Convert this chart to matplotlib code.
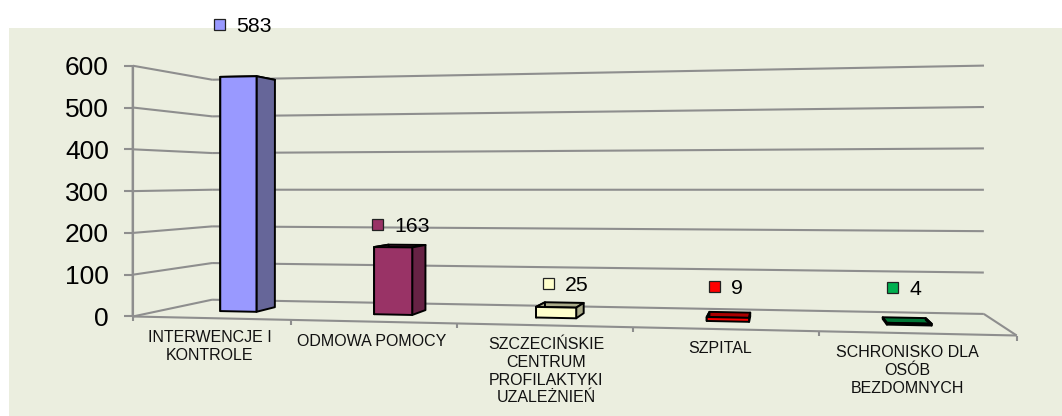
import numpy as np
import matplotlib
matplotlib.use("Agg")
import matplotlib.pyplot as plt
from matplotlib.patches import Polygon, Rectangle

plt.rcParams['font.family'] = ['Liberation Sans', 'DejaVu Sans']

categories = ["INTERWENCJE I\nKONTROLE", "ODMOWA POMOCY",
              "SZCZECIŃSKIE\nCENTRUM\nPROFILAKTYKI\nUZALEŻNIEŃ", "SZPITAL",
              "SCHRONISKO DLA\nOSÓB\nBEZDOMNYCH"]
values = [583, 163, 25, 9, 4]
y_ticks = [0, 100, 200, 300, 400, 500, 600]
front_colors = ["#9999FF", "#993366", "#FFFFCC", "#FF0000", "#00B050"]
side_colors = ["#666699", "#662244", "#AAAA88", "#AA0000", "#007535"]

BG = "#EBEEDF"
GRID = "#8E8E8E"

# camera of the fake 3d chart, fitted to where the box corners land in pixels
# (u along categories 0-1, d depth 0-1, v value)
box_anchors = [
    (0, 0, 0, 133, 316), (0, 0, 600, 133, 65),
    (1, 0, 0, 1017, 334), (0, 1, 0, 212, 299),
    (0, 1, 600, 212, 80), (1, 1, 0, 984, 314),
    (1, 1, 600, 984, 66), (.2, 0, 0, 291, 321),
    (.4, 0, 0, 457, 324.5), (.6, 0, 0, 633, 328),
    (.8, 0, 0, 819, 331),
]


def fit_camera(anchors):
    rows = []
    for u, d, v, x, y in anchors:
        p = [u, d, v / 600, 1]
        rows.append(p + [0, 0, 0, 0] + [-x * c for c in p])
        rows.append([0, 0, 0, 0] + p + [-y * c for c in p])
    _, _, vt = np.linalg.svd(np.array(rows, dtype=float))
    return vt[-1].reshape(3, 4)


camera = fit_camera(box_anchors)


def project(u, d, v):
    h = camera @ np.array([u, d, v / 600, 1.0])
    return h[0] / h[2], h[1] / h[2]


fig = plt.figure(figsize=(10.62, 4.16), dpi=100)
ax = fig.add_axes([0, 0, 1, 1])
ax.set_xlim(0, 1062)
ax.set_ylim(416, 0)
ax.axis("off")
ax.add_patch(Rectangle((9, 28), 1053, 388, fc=BG, ec="none", zorder=0))


def line(a, b, lw=1.5):
    ax.plot([a[0], b[0]], [a[1], b[1]], color=GRID, lw=lw, zorder=1,
            solid_capstyle="butt")


# walls and floor
for t in y_ticks:
    line(project(0, 0, t), project(0, 1, t))
    line(project(0, 1, t), project(1, 1, t))
    x, y = project(0, 0, t)
    line((x - 9, y), (x, y))
    ax.text(x - 24, y, str(t), ha="right", va="center_baseline", fontsize=19, color="black")
line(project(0, 0, 0), project(0, 0, 600), lw=1.8)
line(project(0, 0, 0), project(1, 0, 0))
line(project(1, 0, 0), project(1, 1, 0))
for i in range(len(categories) + 1):
    x, y = project(i / len(categories), 0, 0)
    line((x, y), (x, y + 5))

# bars
bar_half = 0.024
d0, d1 = 0.36, 0.63
label_lift = [56, 20, 19, 26, 30]
label_nudge = [-19, -11, 3, 3, 7]
label_shift = [-1, -1, 2, -5, -9]
for i, val in enumerate(values):
    uc = (i + .5) / len(values)
    u0, u1 = uc - bar_half, uc + bar_half
    top = [project(u0, d0, val), project(u1, d0, val), project(u1, d1, val), project(u0, d1, val)]
    right = [project(u1, d0, 0), project(u1, d1, 0), project(u1, d1, val), project(u1, d0, val)]
    left = [project(u0, d0, 0), project(u0, d1, 0), project(u0, d1, val), project(u0, d0, val)]
    front = [project(u0, d0, 0), project(u1, d0, 0), project(u1, d0, val), project(u0, d0, val)]
    for face, col in [(top, side_colors[i]), (left, side_colors[i]),
                      (right, side_colors[i]), (front, front_colors[i])]:
        ax.add_patch(Polygon(face, closed=True, fc=col, ec="black", lw=1.4,
                             joinstyle="round", zorder=3))

    # value label with its little colour key
    tx, ty = project(uc, d1, val)
    tx += label_nudge[i]
    ty -= label_lift[i]
    ax.add_patch(Rectangle((tx - 24, ty - 5.5), 11, 11, fc=front_colors[i], ec="#222222",
                           lw=0.9, zorder=4))
    ax.text(tx - 2, ty, str(val), ha="left", va="center_baseline", fontsize=15.3, color="black", zorder=4)

    # category label
    lx, ly = project(uc, 0, 0)
    ax.text(lx + label_shift[i], ly + 12, categories[i], ha="center", va="top",
            fontsize=11.5, linespacing=1.22, color="#111111", zorder=4)

fig.savefig("out.png", dpi=100, facecolor="white")
